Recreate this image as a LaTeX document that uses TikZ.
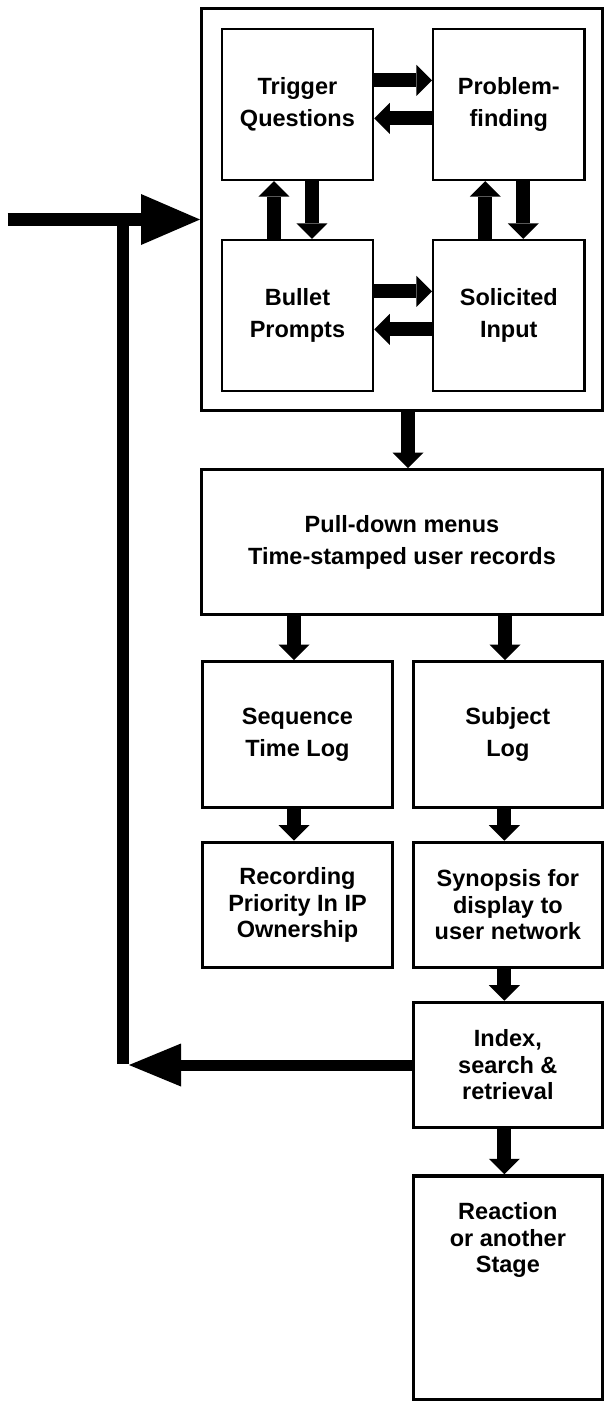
\documentclass[tikz,border=0pt]{standalone}
\usepackage{fontspec}
\setmainfont{Liberation Sans}
\usetikzlibrary{arrows.meta}
\begin{document}
\begin{tikzpicture}[x=1pt,y=-1pt,
  box/.style={draw,line width=3.2pt,align=center,inner sep=0pt,
    font=\bfseries\fontsize{23.5}{32}\selectfont},
  ibox/.style={box,line width=2.2pt},
  three/.style={font=\bfseries\fontsize{23.5}{26.5}\selectfont},
  txt/.style={align=center,inner sep=0pt,font=\bfseries\fontsize{23.5}{26.5}\selectfont},
  blk/.style={line width=14pt,-{Triangle[width=31pt,length=15.5pt,line width=0pt]}},
  bigin/.style={line width=12.5pt,-{Triangle[width=51pt,length=59pt,line width=0pt]}},
  fb/.style={line width=11pt,-{Triangle[width=43pt,length=52pt,line width=0pt]}},
  feed/.style={line width=12.5pt}
]
\useasboundingbox (0,0) rectangle (605,1406);

% outer frame and inner 2x2 boxes
\node[box,minimum width=400.8pt,minimum height=401.8pt] (outer) at (402,209.5) {};
\node[ibox,minimum width=151.5pt,minimum height=151.3pt] (tq) at (297.45,104.35) {Trigger\\Questions};
\node[ibox,minimum width=151.5pt,minimum height=151.3pt] (pf) at (508.8,104.35) {Problem-\\finding};
\node[ibox,minimum width=151.5pt,minimum height=150.7pt] (bp) at (297.45,315.35) {Bullet\\Prompts};
\node[ibox,minimum width=151.5pt,minimum height=150.7pt] (si) at (508.8,315.35) {Solicited\\Input};

% lower chain
\node[box,minimum width=400.8pt,minimum height=144.8pt] (pd) at (402,542) {Pull-down menus\\Time-stamped user records};
\node[box,minimum width=190.4pt,minimum height=146.1pt] (seq) at (297.5,734.65) {Sequence\\Time Log};
\node[box,minimum width=189.1pt,minimum height=146.1pt] (sub) at (507.85,734.65) {Subject\\Log};
\node[box,three,minimum width=190.4pt,minimum height=125.4pt] (rec) at (297.5,905) {Recording\\Priority In IP\\Ownership};
\node[box,three,minimum width=189.1pt,minimum height=125.4pt] (syn) at (507.85,905) {Synopsis for\\display to\\user network};
\node[box,three,minimum width=189.1pt,minimum height=125.4pt] (idx) at (507.85,1065) {Index,\\search \&\\retrieval};
\node[box,minimum width=189.1pt,minimum height=223.2pt] (rea) at (507.85,1287.5) {};
\node[txt] (reat) at (507.85,1240) {Reaction\\or another\\Stage};

% arrows inside the frame
\draw[blk] ([yshift=24pt]tq.east) -- ([yshift=24pt]pf.west);
\draw[blk] ([yshift=-14pt]pf.west) -- ([yshift=-14pt]tq.east);
\draw[blk] ([yshift=24pt]bp.east) -- ([yshift=24pt]si.west);
\draw[blk] ([yshift=-14pt]si.west) -- ([yshift=-14pt]bp.east);
\draw[blk] ([xshift=-23.5pt]bp.north) -- ([xshift=-23.5pt]tq.south);
\draw[blk] ([xshift=14.5pt]tq.south) -- ([xshift=14.5pt]bp.north);
\draw[blk] ([xshift=-23.5pt]si.north) -- ([xshift=-23.5pt]pf.south);
\draw[blk] ([xshift=14.5pt]pf.south) -- ([xshift=14.5pt]si.north);

% chain arrows
\draw[blk] ([xshift=6pt]outer.south) -- ([xshift=6pt]pd.north);
\draw[blk] ([xshift=-108pt]pd.south) -- ([xshift=-3.5pt]seq.north);
\draw[blk] ([xshift=103pt]pd.south) -- ([xshift=-2.85pt]sub.north);
\draw[blk] ([xshift=-3.5pt]seq.south) -- ([xshift=-3.5pt]rec.north);
\draw[blk] ([xshift=-3.5pt]sub.south) -- ([xshift=-3.5pt]syn.north);
\draw[blk] ([xshift=-3.5pt]syn.south) -- ([xshift=-3.5pt]idx.north);
\draw[blk] ([xshift=-3.5pt]idx.south) -- ([xshift=-3.5pt]rea.north);

% feedback loop
\coordinate (start) at (7.7,219.5);
\coordinate (ctop) at (123,219.5);
\coordinate (cbot) at (123,1064);
\coordinate (fbend) at (129,1065);
\draw[feed] (ctop) -- (cbot);
\draw[bigin] (start) -- (outer.west |- start);
\draw[fb] (idx.west) -- (fbend);
\end{tikzpicture}
\end{document}
